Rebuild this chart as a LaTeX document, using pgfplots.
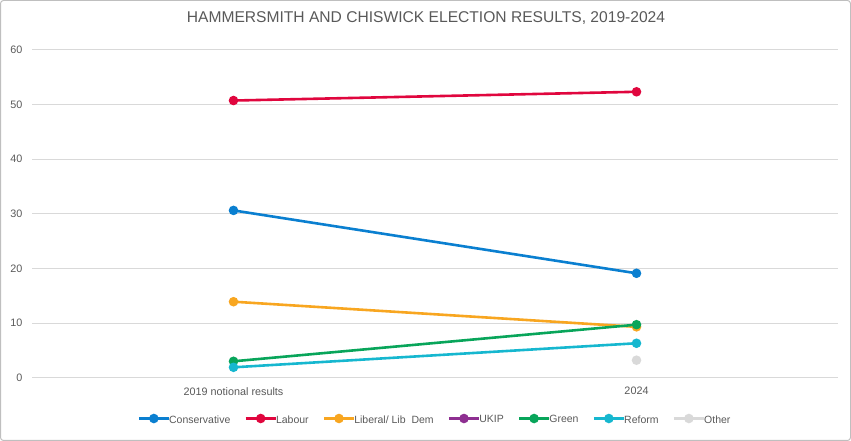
\documentclass[border=0pt]{standalone}
\usepackage{pgfplots}
\pgfplotsset{compat=1.18}
\usepackage{fontspec}
\setmainfont{Liberation Sans}
\definecolor{con}{HTML}{0A7FD0}
\definecolor{lab}{HTML}{E0063E}
\definecolor{ld}{HTML}{F8A620}
\definecolor{ukip}{HTML}{8E2F91}
\definecolor{grn}{HTML}{08A55A}
\definecolor{ref}{HTML}{16B7CF}
\definecolor{oth}{HTML}{D9D9D9}
\definecolor{txt}{HTML}{595959}
\begin{document}
\begin{tikzpicture}[x=1pt,y=1pt]
\draw[color=black!25, line width=1pt, rounded corners=3pt] (0.5,0.5) rectangle (850.5,440.5);
\node[text=txt, font=\fontsize{15.6}{18}\selectfont] at (426,422.5) {HAMMERSMITH AND CHISWICK ELECTION RESULTS, 2019-2024};
\begin{axis}[
  at={(32pt,63.3pt)}, anchor=south west,
  scale only axis, width=806pt, height=328pt,
  xmin=-0.5, xmax=1.5, ymin=0, ymax=60,
  xtick={0,1}, xticklabels={2019 notional results,2024},
  ytick={0,10,...,60},
  axis line style={draw=none},
  major tick length=0pt,
  ymajorgrids, grid style={color=black!15, line width=0.8pt},
  ticklabel style={text=txt, font=\fontsize{10.8}{12}\selectfont},
  /pgf/number format/assume math mode=true,
  yticklabel style={xshift=-6pt},
  xticklabel style={yshift=-6pt},
  clip=false,
  every axis plot/.append style={line width=2.6pt, mark=*, mark size=3.4pt},
  legend columns=-1,
  legend style={at={(0.5,-0.129)}, anchor=center, draw=none, fill=none,
    font=\fontsize{10.5}{12}\selectfont, text=txt,
    /tikz/every odd column/.append style={column sep=-3pt},
    /tikz/every even column/.append style={column sep=12pt}},
  legend image code/.code={
    \draw[#1, mark=none, line width=2.6pt] (0pt,1.5pt) -- (30pt,1.5pt);
    \fill[#1] (15pt,1.5pt) circle (3.4pt);
  },
]
\addplot[con] coordinates {(0,30.6) (1,19.1)};
\addlegendentry{Conservative}
\addplot[lab] coordinates {(0,50.7) (1,52.3)};
\addlegendentry{Labour}
\addplot[ld] coordinates {(0,13.9) (1,9.3)};
\addlegendentry{Liberal/ Lib\ \ Dem}
\addlegendimage{ukip}
\addlegendentry{UKIP}
\addplot[grn] coordinates {(0,3.0) (1,9.7)};
\addlegendentry{Green}
\addplot[ref] coordinates {(0,1.9) (1,6.3)};
\addlegendentry{Reform}
\addplot[oth] coordinates {(1,3.2)};
\addlegendentry{Other}
\end{axis}
\end{tikzpicture}
\end{document}
